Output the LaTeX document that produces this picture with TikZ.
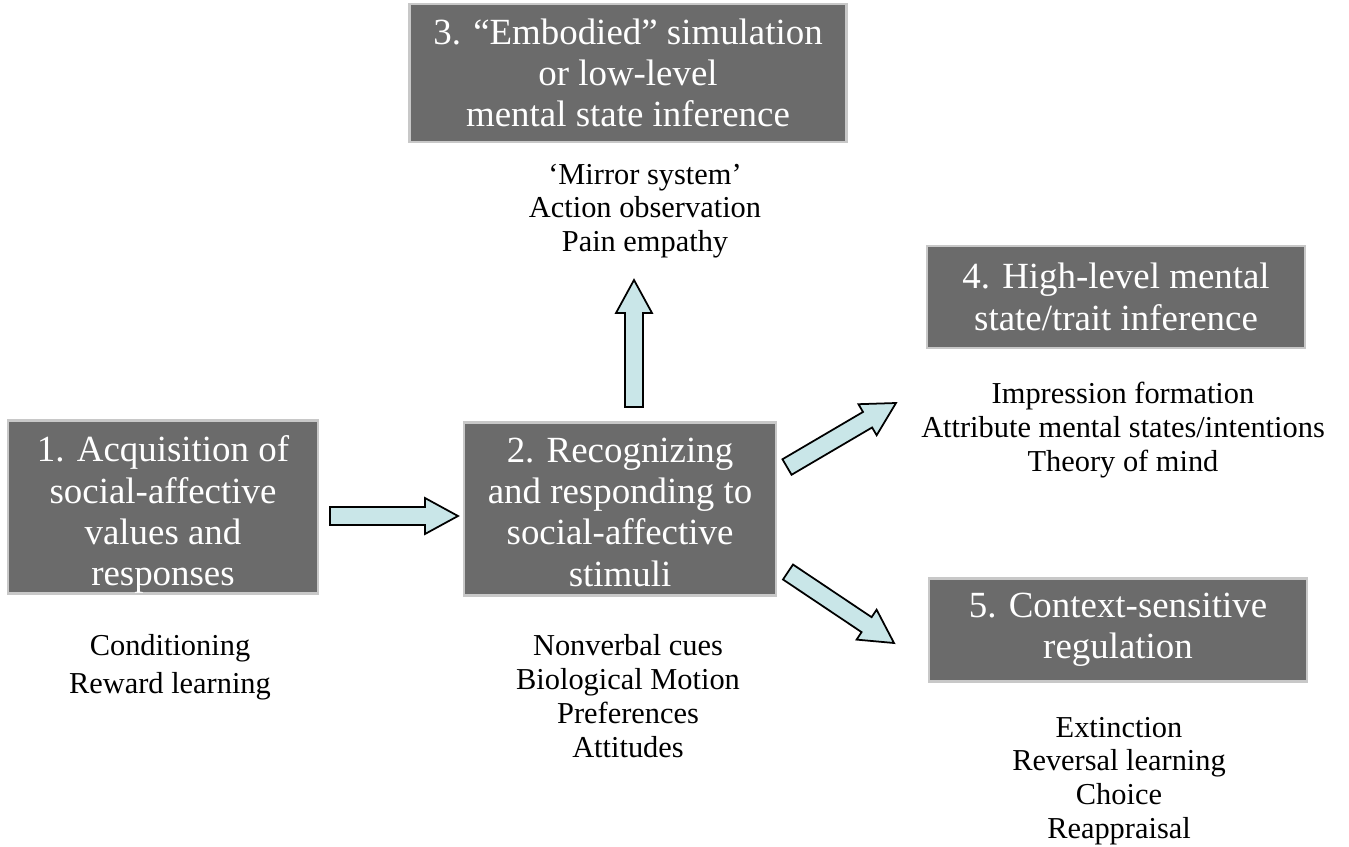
\documentclass[tikz,border=0pt]{standalone}
\usepackage{fontspec}
\setmainfont{Liberation Serif}
\usetikzlibrary{calc, positioning}
\definecolor{boxgray}{RGB}{107, 107, 107}
\definecolor{boxedge}{RGB}{200, 200, 200}
\definecolor{arrowcyan}{RGB}{201, 230, 232}

\tikzset{
  stagebox/.style={fill=boxgray, draw=boxedge, line width=1.2pt, text=white, align=center, inner sep=0pt, font=\fontsize{21}{23.5}\selectfont},
  itemlist/.style={align=center, inner sep=0pt, font=\fontsize{17.3}{19.2}\selectfont},
  blockarrow/.style={draw=black, line width=1pt, fill=arrowcyan, line join=miter,
    to path={($(\tikztostart)!0.18cm!-90:(\tikztotarget)$)
      -- ($(\tikztotarget)!0.6841cm!15.26:(\tikztostart)$)
      -- ($(\tikztotarget)!0.7518cm!28.61:(\tikztostart)$)
      -- (\tikztotarget)
      -- ($(\tikztotarget)!0.7518cm!-28.61:(\tikztostart)$)
      -- ($(\tikztotarget)!0.6841cm!-15.26:(\tikztostart)$)
      -- ($(\tikztostart)!0.18cm!90:(\tikztotarget)$) -- cycle}}
}

\begin{document}
\begin{tikzpicture}[x=0.02cm, y=-0.02cm]
  \useasboundingbox (0,0) rectangle (1349,846);

  % Stage boxes
  \node[stagebox, minimum width=6.2cm, minimum height=3.44cm] (acq) at (163,507)
    {\rule{0pt}{23.5pt}1. Acquisition of\\social-affective\\values and\\responses};
  \node[stagebox, minimum width=6.24cm, minimum height=3.46cm] (recog) at (620,509)
    {\rule{0pt}{17.5pt}2. Recognizing\\and responding to\\social-affective\\stimuli};
  \node[stagebox, minimum width=8.74cm, minimum height=2.76cm] (embod) at (628,73)
    {3. ``Embodied'' simulation\\or low-level\\mental state inference};
  \node[stagebox, minimum width=7.56cm, minimum height=2.04cm] (high) at (1116,297)
    {4. High-level mental\\state/trait inference};
  \node[stagebox, minimum width=7.56cm, minimum height=2.06cm] (ctx) at (1118,630)
    {5. Context-sensitive\\regulation};

  % Examples under each stage
  \node[itemlist, font=\fontsize{17.3}{21.5}\selectfont] (acqlist) at (170,667) {Conditioning\\Reward learning};
  \node[itemlist] (recoglist) at (628,696) {Nonverbal cues\\Biological Motion\\Preferences\\Attitudes};
  \node[itemlist] (embodlist) at (645,211) {`Mirror system'\\Action observation\\Pain empathy};
  \node[itemlist] (highlist) at (1123,430) {Impression formation\\Attribute mental states/intentions\\Theory of mind};
  \node[itemlist] (ctxlist) at (1119,781) {Extinction\\Reversal learning\\Choice\\Reappraisal};

  % Arrow ends
  \coordinate (acqout) at (330,516);
  \coordinate (recogin) at (458,516);
  \coordinate (upout) at (634,407);
  \coordinate (embodin) at (634,280);
  \coordinate (highout) at (787,467);
  \coordinate (highin) at (896,403);
  \coordinate (ctxout) at (788,572);
  \coordinate (ctxin) at (894,643);

  % Block arrows
  \draw[blockarrow] (acqout) to (recogin);
  \draw[blockarrow] (upout) to (embodin);
  \draw[blockarrow] (highout) to (highin);
  \draw[blockarrow] (ctxout) to (ctxin);
\end{tikzpicture}
\end{document}
